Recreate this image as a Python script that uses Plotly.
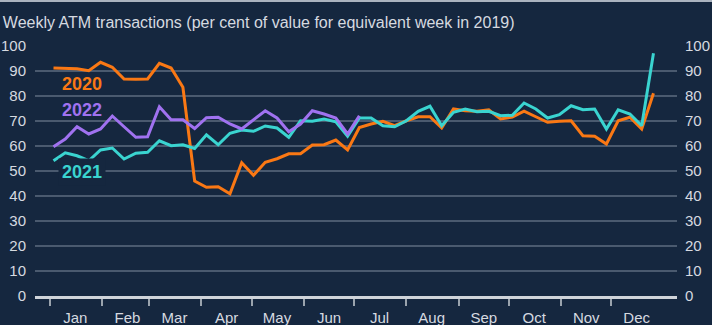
import pandas as pd
import plotly.graph_objects as go

# Weekly ATM transactions, per cent of the equivalent week in 2019
weeks = pd.date_range("2019-01-03", periods=52, freq="7D")

y2020 = [91.2, 91.0, 90.9, 90.1, 93.5, 91.5, 86.8, 86.7, 86.8, 93.1,
         91.2, 83.5, 46.0, 43.5, 43.7, 40.9, 53.3, 48.3, 53.5, 54.9,
         56.9, 56.9, 60.4, 60.5, 62.4, 58.4, 67.4, 68.8, 69.9, 68.1,
         70.1, 71.7, 71.7, 67.2, 74.8, 74.1, 73.9, 74.5, 70.8, 71.6,
         73.9, 71.7, 69.5, 69.9, 70.1, 64.1, 63.9, 60.8, 70.1, 71.5,
         66.8, 81.1]

y2021 = [54.1, 57.3, 56.1, 54.1, 58.4, 59.2, 54.8, 57.1, 57.5, 62.1,
         60.1, 60.5, 59.0, 64.5, 60.5, 65.1, 66.4, 65.9, 68.0, 67.2,
         63.5, 70.1, 69.9, 70.8, 69.7, 63.9, 71.2, 71.2, 68.1, 67.7,
         70.1, 73.9, 75.9, 68.1, 73.5, 74.8, 73.7, 73.9, 72.1, 72.3,
         77.2, 74.8, 71.2, 72.5, 76.1, 74.5, 74.8, 66.8, 74.5, 72.8,
         68.1, 97.1]

y2022 = [59.7, 62.8, 67.7, 64.8, 66.8, 72.0, 67.7, 63.5, 63.7, 75.7,
         70.5, 70.5, 67.0, 71.3, 71.5, 68.8, 66.8, 70.4, 74.1, 71.2,
         65.7, 68.8, 74.1, 72.8, 71.2, 64.8, 72.1]

month_names = ["Jan", "Feb", "Mar", "Apr", "May", "Jun",
               "Jul", "Aug", "Sep", "Oct", "Nov", "Dec"]
month_starts = pd.date_range("2019-01-01", periods=12, freq="MS")
month_mids = [d + pd.Timedelta(days=15) for d in month_starts]

y_ticks = list(range(0, 101, 10))

BG = "#15273f"
GRID = "#4a5a6f"
TEXT = "#d6dae0"
ORANGE = "#fa7814"
CYAN = "#3ad4d0"
PURPLE = "#a072f0"
CLEAR = "rgba(0,0,0,0)"
FONT = "Liberation Sans, Arial, sans-serif"

fig = go.Figure()
fig.add_trace(go.Scatter(x=weeks, y=y2020, mode="lines", name="2020",
                         line=dict(color=ORANGE, width=3), yaxis="y"))
fig.add_trace(go.Scatter(x=weeks, y=y2021, mode="lines", name="2021",
                         line=dict(color=CYAN, width=3), yaxis="y"))
fig.add_trace(go.Scatter(x=weeks[:len(y2022)], y=y2022, mode="lines", name="2022",
                         line=dict(color=PURPLE, width=3), yaxis="y2"))

# series labels
label_x = pd.Timestamp("2019-01-20")
for text, yv, col in [("2020", 84.9, ORANGE), ("2022", 74.5, PURPLE), ("2021", 49.7, CYAN)]:
    fig.add_annotation(x=label_x, y=yv, xref="x", yref="y", text=f"<b>{text}</b>",
                       showarrow=False, font=dict(family=FONT, size=18, color=col),
                       bgcolor=BG if text == "2021" else None, borderpad=3)

axis_font = dict(family=FONT, size=15, color=TEXT)

fig.update_layout(
    width=712, height=325,
    margin=dict(l=35, r=35, t=46, b=29, autoexpand=False),
    paper_bgcolor=BG, plot_bgcolor=BG,
    showlegend=False,
    title=dict(text="Weekly ATM transactions (per cent of value for equivalent week in 2019)",
               x=0.004, xanchor="left", xref="container",
               y=1 - 22 / 325, yanchor="middle", yref="container",
               font=dict(family=FONT, size=16, color=TEXT)),
    xaxis=dict(
        type="date", range=["2018-12-23", "2020-01-09"], automargin=False,
        tickmode="array", tickvals=month_mids, ticktext=month_names,
        ticks="outside", ticklen=6, tickcolor=CLEAR,
        showgrid=False, zeroline=False,
        showline=True, linecolor="#cfd4da", linewidth=3,
        tickfont=axis_font,
        minor=dict(tickmode="array", tickvals=month_starts, ticks="outside",
                   ticklen=7, tickwidth=1.5, tickcolor="#9aa3ad", showgrid=False),
    ),
    yaxis=dict(
        range=[0, 100], tickmode="array", tickvals=y_ticks, automargin=False,
        showgrid=True, gridcolor=GRID, gridwidth=2,
        zeroline=False, showline=False,
        ticks="outside", ticklen=5, tickcolor=CLEAR,
        tickfont=axis_font,
    ),
    yaxis2=dict(
        range=[0, 100], tickmode="array", tickvals=y_ticks, automargin=False,
        overlaying="y", side="right", matches="y",
        showgrid=False, zeroline=False, showline=False,
        ticks="outside", ticklen=4, tickcolor=CLEAR,
        tickfont=axis_font,
    ),
    shapes=[dict(type="line", xref="paper", yref="paper",
                 x0=-0.06, x1=1.06, y0=1.18, y1=1.18,
                 line=dict(color="#aab3bf", width=2))],
)

fig.write_html("out.html")
